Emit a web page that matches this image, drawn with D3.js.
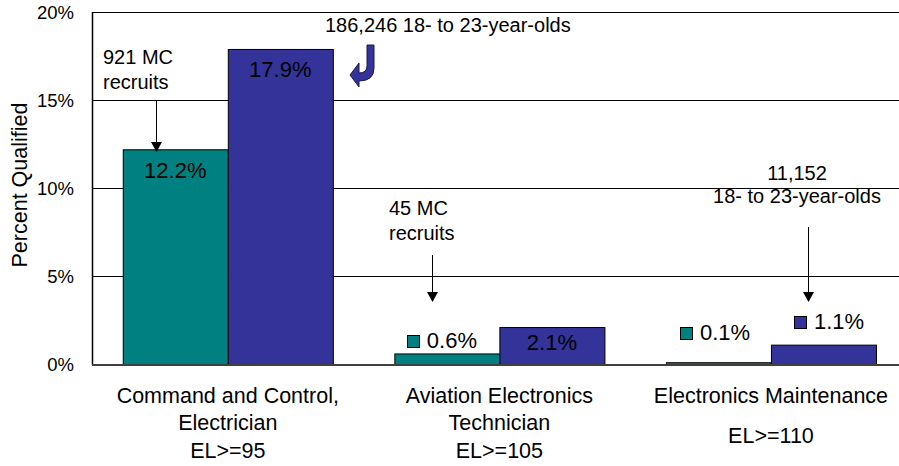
<html>
<script src="https://d3js.org/d3.v7.min.js"></script>
<style>
  body { margin: 0; background: #fff; }
  svg { font-family: "Liberation Sans", Arial, sans-serif; display: block; }
  .grid line { stroke: #000; stroke-width: 1px; }
  .bar { stroke: #000; stroke-width: 1px; }
  .ann { font-size: 20px; fill: #000; }
  .val { font-size: 22px; fill: #000; }
  .cat { font-size: 21.5px; fill: #000; text-anchor: middle; }
</style>
<svg width="899" height="466"></svg>
<script>
  let categories = ['Command and Control, Electrician', 'Aviation Electronics Technician', 'Electronics Maintenance'];
  let catLines = [['Command and Control,', 'Electrician'], ['Aviation Electronics', 'Technician'], ['Electronics Maintenance']];
  let elLabels = ['EL>=95', 'EL>=105', 'EL>=110'];
  let series = ['MC recruits', '18- to 23-year-olds'];
  let recruits = [12.2, 0.6, 0.1];
  let population = [17.9, 2.1, 1.1];
  let yTicks = [0, 5, 10, 15, 20];
  let colors = ['#008080', '#333399'];

  let svg = d3.select('svg');
  let mLeft = 92, mTop = 12, mBottom = 364, mRight = 906.75;

  let x0 = d3.scaleBand().domain(categories).range([mLeft, mRight])
      .paddingInner(0.2265).paddingOuter(0.11325);
  let x1 = d3.scaleBand().domain(series).range([0, x0.bandwidth()]);
  let y = d3.scaleLinear().domain([0, 20]).range([mBottom, mTop]);

  // gridlines
  svg.append('g').attr('class', 'grid')
    .selectAll('line').data(yTicks.filter(d => d > 0)).enter()
    .append('line')
    .attr('x1', mLeft).attr('x2', 899)
    .attr('y1', d => Math.round(y(d)) + 0.5).attr('y2', d => Math.round(y(d)) + 0.5);

  // y tick labels
  svg.append('g').selectAll('text').data(yTicks).enter()
    .append('text')
    .attr('x', 74).attr('y', d => y(d) + 6.5)
    .attr('text-anchor', 'end')
    .style('font-size', '18.5px')
    .text(d => d + '%');

  svg.append('text')
    .attr('transform', 'translate(27,185) rotate(-90)')
    .attr('text-anchor', 'middle')
    .style('font-size', '21.5px')
    .text('Percent Qualified');

  let data = categories.map((c, i) => [
    { cat: c, s: series[0], v: recruits[i], col: colors[0] },
    { cat: c, s: series[1], v: population[i], col: colors[1] }
  ]);

  let groups = svg.selectAll('.grp').data(data).enter()
    .append('g').attr('class', 'grp')
    .attr('transform', d => 'translate(' + x0(d[0].cat) + ',0)');

  groups.selectAll('rect').data(d => d).enter()
    .append('rect').attr('class', 'bar')
    .attr('x', d => x1(d.s) + 0.5)
    .attr('y', d => y(d.v) + 0.5)
    .attr('width', x1.bandwidth())
    .attr('height', d => y(0) - y(d.v))
    .attr('fill', d => d.col);

  // axes
  svg.append('line').attr('x1', mLeft + 0.5).attr('x2', mLeft + 0.5)
    .attr('y1', mTop).attr('y2', mBottom + 1)
    .attr('stroke', '#000').attr('stroke-width', 1.5);
  svg.append('line').attr('x1', mLeft).attr('x2', 899)
    .attr('y1', mBottom + 1).attr('y2', mBottom + 1)
    .attr('stroke', '#404040').attr('stroke-width', 2);

  let barCenter = d => x0(d.cat) + x1(d.s) + x1.bandwidth() / 2;

  // value labels inside taller bars
  let inside = [[0, 0], [0, 1], [1, 1]];
  inside.forEach(([ci, si]) => {
    let d = data[ci][si];
    let yy = d.v > 5 ? y(d.v) + 28.5 : y(0) - 14;
    svg.append('text').attr('class', 'val')
      .attr('x', barCenter(d)).attr('y', yy).attr('text-anchor', 'middle')
      .text(d.v.toFixed(1) + '%');
  });

  // value labels with legend keys for short bars
  let keyed = [[1, 0, -40, -16], [2, 0, -38.5, -24], [2, 1, -29.5, -35]];
  keyed.forEach(([ci, si, dx, dy]) => {
    let d = data[ci][si];
    let bx = barCenter(d) + dx, by = y(0) + dy;
    svg.append('rect')
      .attr('x', Math.round(bx) + 0.5).attr('y', Math.round(by - 13) + 0.5)
      .attr('width', 12).attr('height', 12)
      .attr('fill', d.col).attr('stroke', '#000').attr('stroke-width', 1);
    svg.append('text').attr('class', 'val')
      .attr('x', bx + 20).attr('y', by)
      .text(d.v.toFixed(1) + '%');
  });

  // category labels
  catLines.forEach((lines, i) => {
    let cx = x0(categories[i]) + x0.bandwidth() / 2;
    lines.forEach((l, j) => {
      svg.append('text').attr('class', 'cat')
        .attr('x', cx).attr('y', 403 + j * 27).text(l);
    });
    svg.append('text').attr('class', 'cat')
      .attr('x', cx).attr('y', lines.length > 1 ? 458 : 443).text(elLabels[i]);
  });

  // annotations
  function arrowDown(xx, y1, y2) {
    svg.append('line').attr('x1', xx).attr('x2', xx).attr('y1', y1).attr('y2', y2 - 9)
      .attr('stroke', '#000').attr('stroke-width', 1);
    svg.append('path')
      .attr('d', 'M' + (xx - 5.5) + ',' + (y2 - 10) + 'L' + (xx + 5.5) + ',' + (y2 - 10) + 'L' + xx + ',' + y2 + 'Z')
      .attr('fill', '#000');
  }

  svg.append('text').attr('class', 'ann').attr('x', 103).attr('y', 64).text('921 MC');
  svg.append('text').attr('class', 'ann').attr('x', 103).attr('y', 89).text('recruits');
  arrowDown(156.5, 101, 152);

  svg.append('text').attr('class', 'ann').attr('x', 325).attr('y', 32).text('186,246 18- to 23-year-olds');
  svg.append('path')
    .attr('d', 'M367,45 L374,45 L374,68 Q374,81 359,81 L359,87 L350,75 L359,63 L359,73 Q367,73 367,66 Z')
    .attr('fill', '#333399').attr('stroke', '#1a1a4d').attr('stroke-width', 1);

  svg.append('text').attr('class', 'ann').attr('x', 389).attr('y', 215).text('45 MC');
  svg.append('text').attr('class', 'ann').attr('x', 389).attr('y', 240).text('recruits');
  arrowDown(432.5, 255, 302);

  svg.append('text').attr('class', 'ann').attr('x', 797).attr('y', 180).attr('text-anchor', 'middle').text('11,152');
  svg.append('text').attr('class', 'ann').attr('x', 797).attr('y', 203).attr('text-anchor', 'middle').text('18- to 23-year-olds');
  arrowDown(808.5, 227, 302);
</script>
</html>
